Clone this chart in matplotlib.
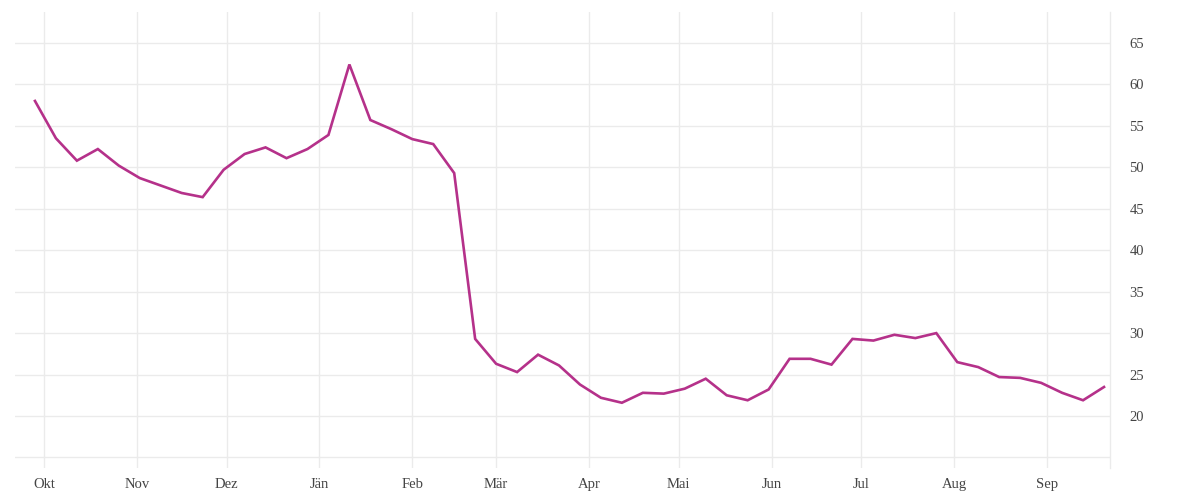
import matplotlib
matplotlib.use("Agg")
import matplotlib.pyplot as plt
import matplotlib.dates as mdates
import pandas as pd

# weekly values, starting end of September
start_date = "2020-09-28"
values = [
    58.0, 53.5, 50.8, 52.2, 50.2, 48.7, 47.8, 46.9, 46.4, 49.7,
    51.6, 52.4, 51.1, 52.2, 53.9, 62.4, 55.7, 54.6, 53.4, 52.8,
    49.3, 29.3, 26.3, 25.3, 27.4, 26.1, 23.8, 22.2, 21.6, 22.8,
    22.7, 23.3, 24.5, 22.5, 21.9, 23.2, 26.9, 26.9, 26.2, 29.3,
    29.1, 29.8, 29.4, 30.0, 26.5, 25.9, 24.7, 24.6, 24.0, 22.8,
    21.9, 23.5,
]
month_starts = ["2020-10-01", "2020-11-01", "2020-12-01", "2021-01-01",
                "2021-02-01", "2021-03-01", "2021-04-01", "2021-05-01",
                "2021-06-01", "2021-07-01", "2021-08-01", "2021-09-01"]
month_labels = ["Okt", "Nov", "Dez", "Jän", "Feb", "Mär", "Apr", "Mai",
                "Jun", "Jul", "Aug", "Sep"]
y_ticks = [15, 20, 25, 30, 35, 40, 45, 50, 55, 60, 65]
y_labels = ["", "20", "25", "30", "35", "40", "45", "50", "55", "60", "65"]

LINE_COLOR = "#b5318a"
GRID_COLOR = "#ebebeb"
TEXT_COLOR = "#444444"

plt.rcParams["font.family"] = ["Liberation Serif", "DejaVu Serif"]

dates = pd.date_range(start_date, periods=len(values), freq="7D")

fig = plt.figure(figsize=(12, 5), dpi=100)
ax = fig.add_axes([0.0125, 0.064, 0.9125, 0.912])

ax.plot(dates, values, color=LINE_COLOR, linewidth=1.9, solid_joinstyle="miter", zorder=3)

ax.set_xlim(pd.Timestamp("2020-09-21 08:00"), pd.Timestamp("2021-09-22"))
ax.set_ylim(13.73, 68.73)

ax.set_xticks(pd.to_datetime(month_starts))
ax.set_xticklabels(month_labels)
ax.set_yticks(y_ticks)
ax.set_yticklabels(y_labels)

ax.yaxis.tick_right()
ax.tick_params(axis="both", length=0, colors=TEXT_COLOR, labelsize=10.5)
ax.tick_params(axis="y", pad=14)
ax.tick_params(axis="x", pad=7)

ax.grid(True, color=GRID_COLOR, linewidth=1)
ax.set_axisbelow(True)
for side in ["top", "left", "bottom"]:
    ax.spines[side].set_visible(False)
ax.spines["right"].set_color(GRID_COLOR)
ax.spines["right"].set_linewidth(1)

fig.savefig("out.png", dpi=100, facecolor="white")
